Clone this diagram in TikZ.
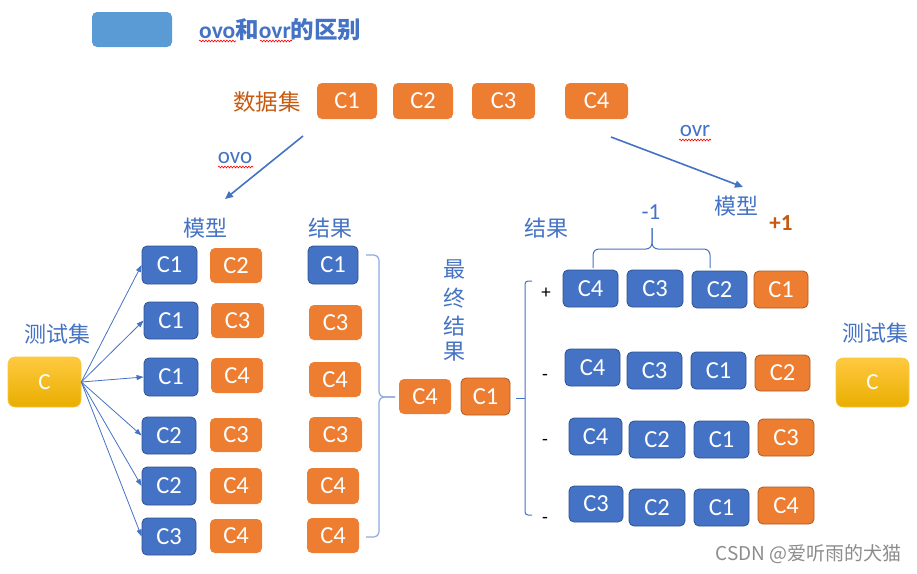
\documentclass[tikz,border=0pt]{standalone}
\usepackage{fontspec}
\setmainfont{Carlito}
\newfontfamily\cjk{Noto Sans CJK SC}
\usetikzlibrary{arrows.meta,decorations.pathmorphing}
\definecolor{mblue}{HTML}{4472C4}
\definecolor{bdark}{HTML}{2F528F}
\definecolor{morange}{HTML}{ED7D31}
\definecolor{odark}{HTML}{AE5A21}
\definecolor{brown}{HTML}{C55A11}
\definecolor{tblue}{HTML}{5B9BD5}
\definecolor{lblue}{HTML}{8FAADC}
\definecolor{yelt}{HTML}{FFC940}
\definecolor{yelb}{HTML}{E9AE00}
\definecolor{yeld}{HTML}{F5C842}
\tikzset{
  box/.style={rounded corners=5pt, inner sep=0pt, text=white, font=\fontsize{24.5}{24.5}\selectfont},
  bb/.style={box, fill=mblue, draw=bdark, line width=0.8pt},
  ob/.style={box, fill=morange},
  obd/.style={box, fill=morange, draw=odark, line width=0.8pt},
  yb/.style={box, rounded corners=7pt, top color=yelt, bottom color=yelb, draw=yeld, line width=0.6pt, font=\fontsize{23}{23}\selectfont},
  cj/.style={text=mblue, font=\cjk\fontsize{22}{22}\selectfont, inner sep=0pt},
  lbl/.style={text=mblue, font=\fontsize{23}{23}\selectfont, inner sep=0pt},
  sign/.style={text=black, font=\fontsize{19}{19}\selectfont, inner sep=0pt},
  bigarrow/.style={draw=mblue, line width=1.6pt, -{Triangle[length=8pt,width=7pt]}},
  fan/.style={draw=mblue, line width=0.8pt, -{Triangle[length=7pt,width=5pt]}},
  wavy/.style={draw=red, line width=0.6pt, decorate, decoration={snake, amplitude=0.9pt, segment length=3pt}},
}
\begin{document}
\begin{tikzpicture}[x=1pt,y=-1pt]
\useasboundingbox (0,0) rectangle (917,573);
% title
\node[fill=tblue, rounded corners=5pt, minimum width=80pt, minimum height=35pt, inner sep=0pt] (tbox) at (132,29.5) {};
\node[anchor=west, text=mblue, inner sep=0pt, font=\bfseries\fontsize{23.5}{23.5}\selectfont] (title) at (199,30) {ovo{\cjk 和}ovr{\cjk 的区别}};
\draw[wavy] (199,41) -- (236,41);
\draw[wavy] (260,41) -- (292,41);
% dataset
\node[text=brown, font=\cjk\fontsize{22.5}{22.5}\selectfont, inner sep=0pt] (ds) at (267,102) {数据集};
\node[ob, minimum width=60pt, minimum height=36pt] (d1) at (347,101) {C1};
\node[ob, minimum width=60pt, minimum height=36pt] (d2) at (423,101) {C2};
\node[ob, minimum width=63pt, minimum height=36pt] (d3) at (503.5,101) {C3};
\node[ob, minimum width=63pt, minimum height=36pt] (d4) at (596.5,101) {C4};
% ovo / ovr arrows
\coordinate (ovoS) at (303,136);
\coordinate (ovoE) at (225,199);
\draw[bigarrow] (ovoS) -- (ovoE);
\node[lbl] (ovo) at (235,158) {ovo};
\draw[wavy] (218,167) -- (253,167);
\coordinate (ovrS) at (611,137);
\coordinate (ovrE) at (743,187);
\draw[bigarrow] (ovrS) -- (ovrE);
\node[lbl] (ovr) at (695,131) {ovr};
\draw[wavy] (679,140) -- (711,140);
% left part
\node[cj] (test1) at (57,334) {测试集};
\node[yb, minimum width=73pt, minimum height=50pt] (yl) at (44.5,382) {C};
\node[cj] (mx1) at (205,228) {模型};
\node[cj] (jg1) at (330,228) {结果};
\node[bb, minimum width=55pt, minimum height=38pt] (b1) at (169.5,265) {C1};
\node[ob, minimum width=52pt, minimum height=35pt] (o1) at (236,265.5) {C2};
\node[bb, minimum width=54pt, minimum height=37pt] (b2) at (171,320.5) {C1};
\node[ob, minimum width=53pt, minimum height=35pt] (o2) at (237.5,320.5) {C3};
\node[bb, minimum width=54pt, minimum height=38pt] (b3) at (171,377) {C1};
\node[ob, minimum width=52pt, minimum height=35pt] (o3) at (237,375.5) {C4};
\node[bb, minimum width=54pt, minimum height=37pt] (b4) at (169,435.5) {C2};
\node[ob, minimum width=52pt, minimum height=34pt] (o4) at (236,435) {C3};
\node[bb, minimum width=54pt, minimum height=38pt] (b5) at (169,486) {C2};
\node[ob, minimum width=52pt, minimum height=36pt] (o5) at (236,486) {C4};
\node[bb, minimum width=54pt, minimum height=37pt] (b6) at (169,536.5) {C3};
\node[ob, minimum width=52pt, minimum height=34pt] (o6) at (236,536) {C4};
\foreach \b in {b1,b2,b3,b4,b5,b6} \draw[fan] (yl.east) -- (\b.west);
% results column
\node[bb, minimum width=50pt, minimum height=38pt] (r1) at (333,265) {C1};
\node[ob, minimum width=53pt, minimum height=35pt] (r2) at (335.5,322.5) {C3};
\node[ob, minimum width=52pt, minimum height=35pt] (r3) at (335,379.5) {C4};
\node[ob, minimum width=53pt, minimum height=35pt] (r4) at (335.5,434.5) {C3};
\node[ob, minimum width=52pt, minimum height=36pt] (r5) at (333,486) {C4};
\node[ob, minimum width=52pt, minimum height=35pt] (r6) at (333,535.5) {C4};
\draw[lblue, line width=1.2pt, rounded corners=5pt] (366,255) -- (379,255) -- (379,397) -- (395,397);
\draw[lblue, line width=1.2pt, rounded corners=5pt] (366,537) -- (379,537) -- (379,397) -- (395,397);
% final result
\node[cj] (z1) at (454,269) {最};
\node[cj] (z2) at (454,298) {终};
\node[cj] (z3) at (454,326) {结};
\node[cj] (z4) at (454,352) {果};
\node[ob, minimum width=52pt, minimum height=35pt] (f1) at (425,396.5) {C4};
\node[obd, minimum width=49pt, minimum height=37pt] (f2) at (485.5,396.5) {C1};
% right bracket
\draw[mblue, line width=1pt, rounded corners=3pt] (532,281) -- (525,281) -- (525,515) -- (532,515);
\draw[mblue, line width=1pt] (516,398) -- (525,398);
% right part
\node[cj] (jg2) at (546,228) {结果};
\node[lbl] (m1) at (651,212) {-1};
\draw[mblue, line width=1pt, rounded corners=6pt] (593,268) -- (593,249) -- (652,249) -- (652,228);
\draw[mblue, line width=1pt, rounded corners=6pt] (710,268) -- (710,249) -- (652,249) -- (652,228);
\node[cj] (mx2) at (736,206) {模型};
\node[lbl, text=brown, font=\bfseries\fontsize{23}{23}\selectfont] (p1l) at (781,223) {+1};
\node[sign] (s1) at (546,293) {+};
\node[bb, minimum width=55pt, minimum height=37pt] (p1) at (590.5,288.5) {C4};
\node[bb, minimum width=56pt, minimum height=37pt] (p2) at (655,288.5) {C3};
\node[bb, minimum width=55pt, minimum height=37pt] (p3) at (719.5,289.5) {C2};
\node[obd, minimum width=54pt, minimum height=37pt] (p4) at (781,289.5) {C1};
\node[sign] (s2) at (545,377) {-};
\node[bb, minimum width=55pt, minimum height=37pt] (q1) at (592.5,367.5) {C4};
\node[bb, minimum width=55pt, minimum height=37pt] (q2) at (654.5,370.5) {C3};
\node[bb, minimum width=55pt, minimum height=37pt] (q3) at (718.5,370.5) {C1};
\node[obd, minimum width=55pt, minimum height=36pt] (q4) at (782.5,373) {C2};
\node[sign] (s3) at (545,442) {-};
\node[bb, minimum width=53pt, minimum height=37pt] (u1) at (595.5,436.5) {C4};
\node[bb, minimum width=56pt, minimum height=37pt] (u2) at (657,439.5) {C2};
\node[bb, minimum width=55pt, minimum height=37pt] (u3) at (721.5,439.5) {C1};
\node[obd, minimum width=56pt, minimum height=37pt] (u4) at (786,437.5) {C3};
\node[sign] (s4) at (545,520) {-};
\node[bb, minimum width=54pt, minimum height=36pt] (t1) at (596,504) {C3};
\node[bb, minimum width=56pt, minimum height=37pt] (t2) at (657,507.5) {C2};
\node[bb, minimum width=55pt, minimum height=37pt] (t3) at (721.5,507.5) {C1};
\node[obd, minimum width=56pt, minimum height=37pt] (t4) at (786,505.5) {C4};
% right test set
\node[cj] (test2) at (875,333) {测试集};
\node[yb, minimum width=73pt, minimum height=49pt] (yr) at (872.5,382.5) {C};
% watermark
\node[anchor=east, text=black!45, font=\cjk\fontsize{19}{19}\selectfont, inner sep=0pt] (wm) at (902,554) {CSDN @爱听雨的犬猫};
\end{tikzpicture}
\end{document}
